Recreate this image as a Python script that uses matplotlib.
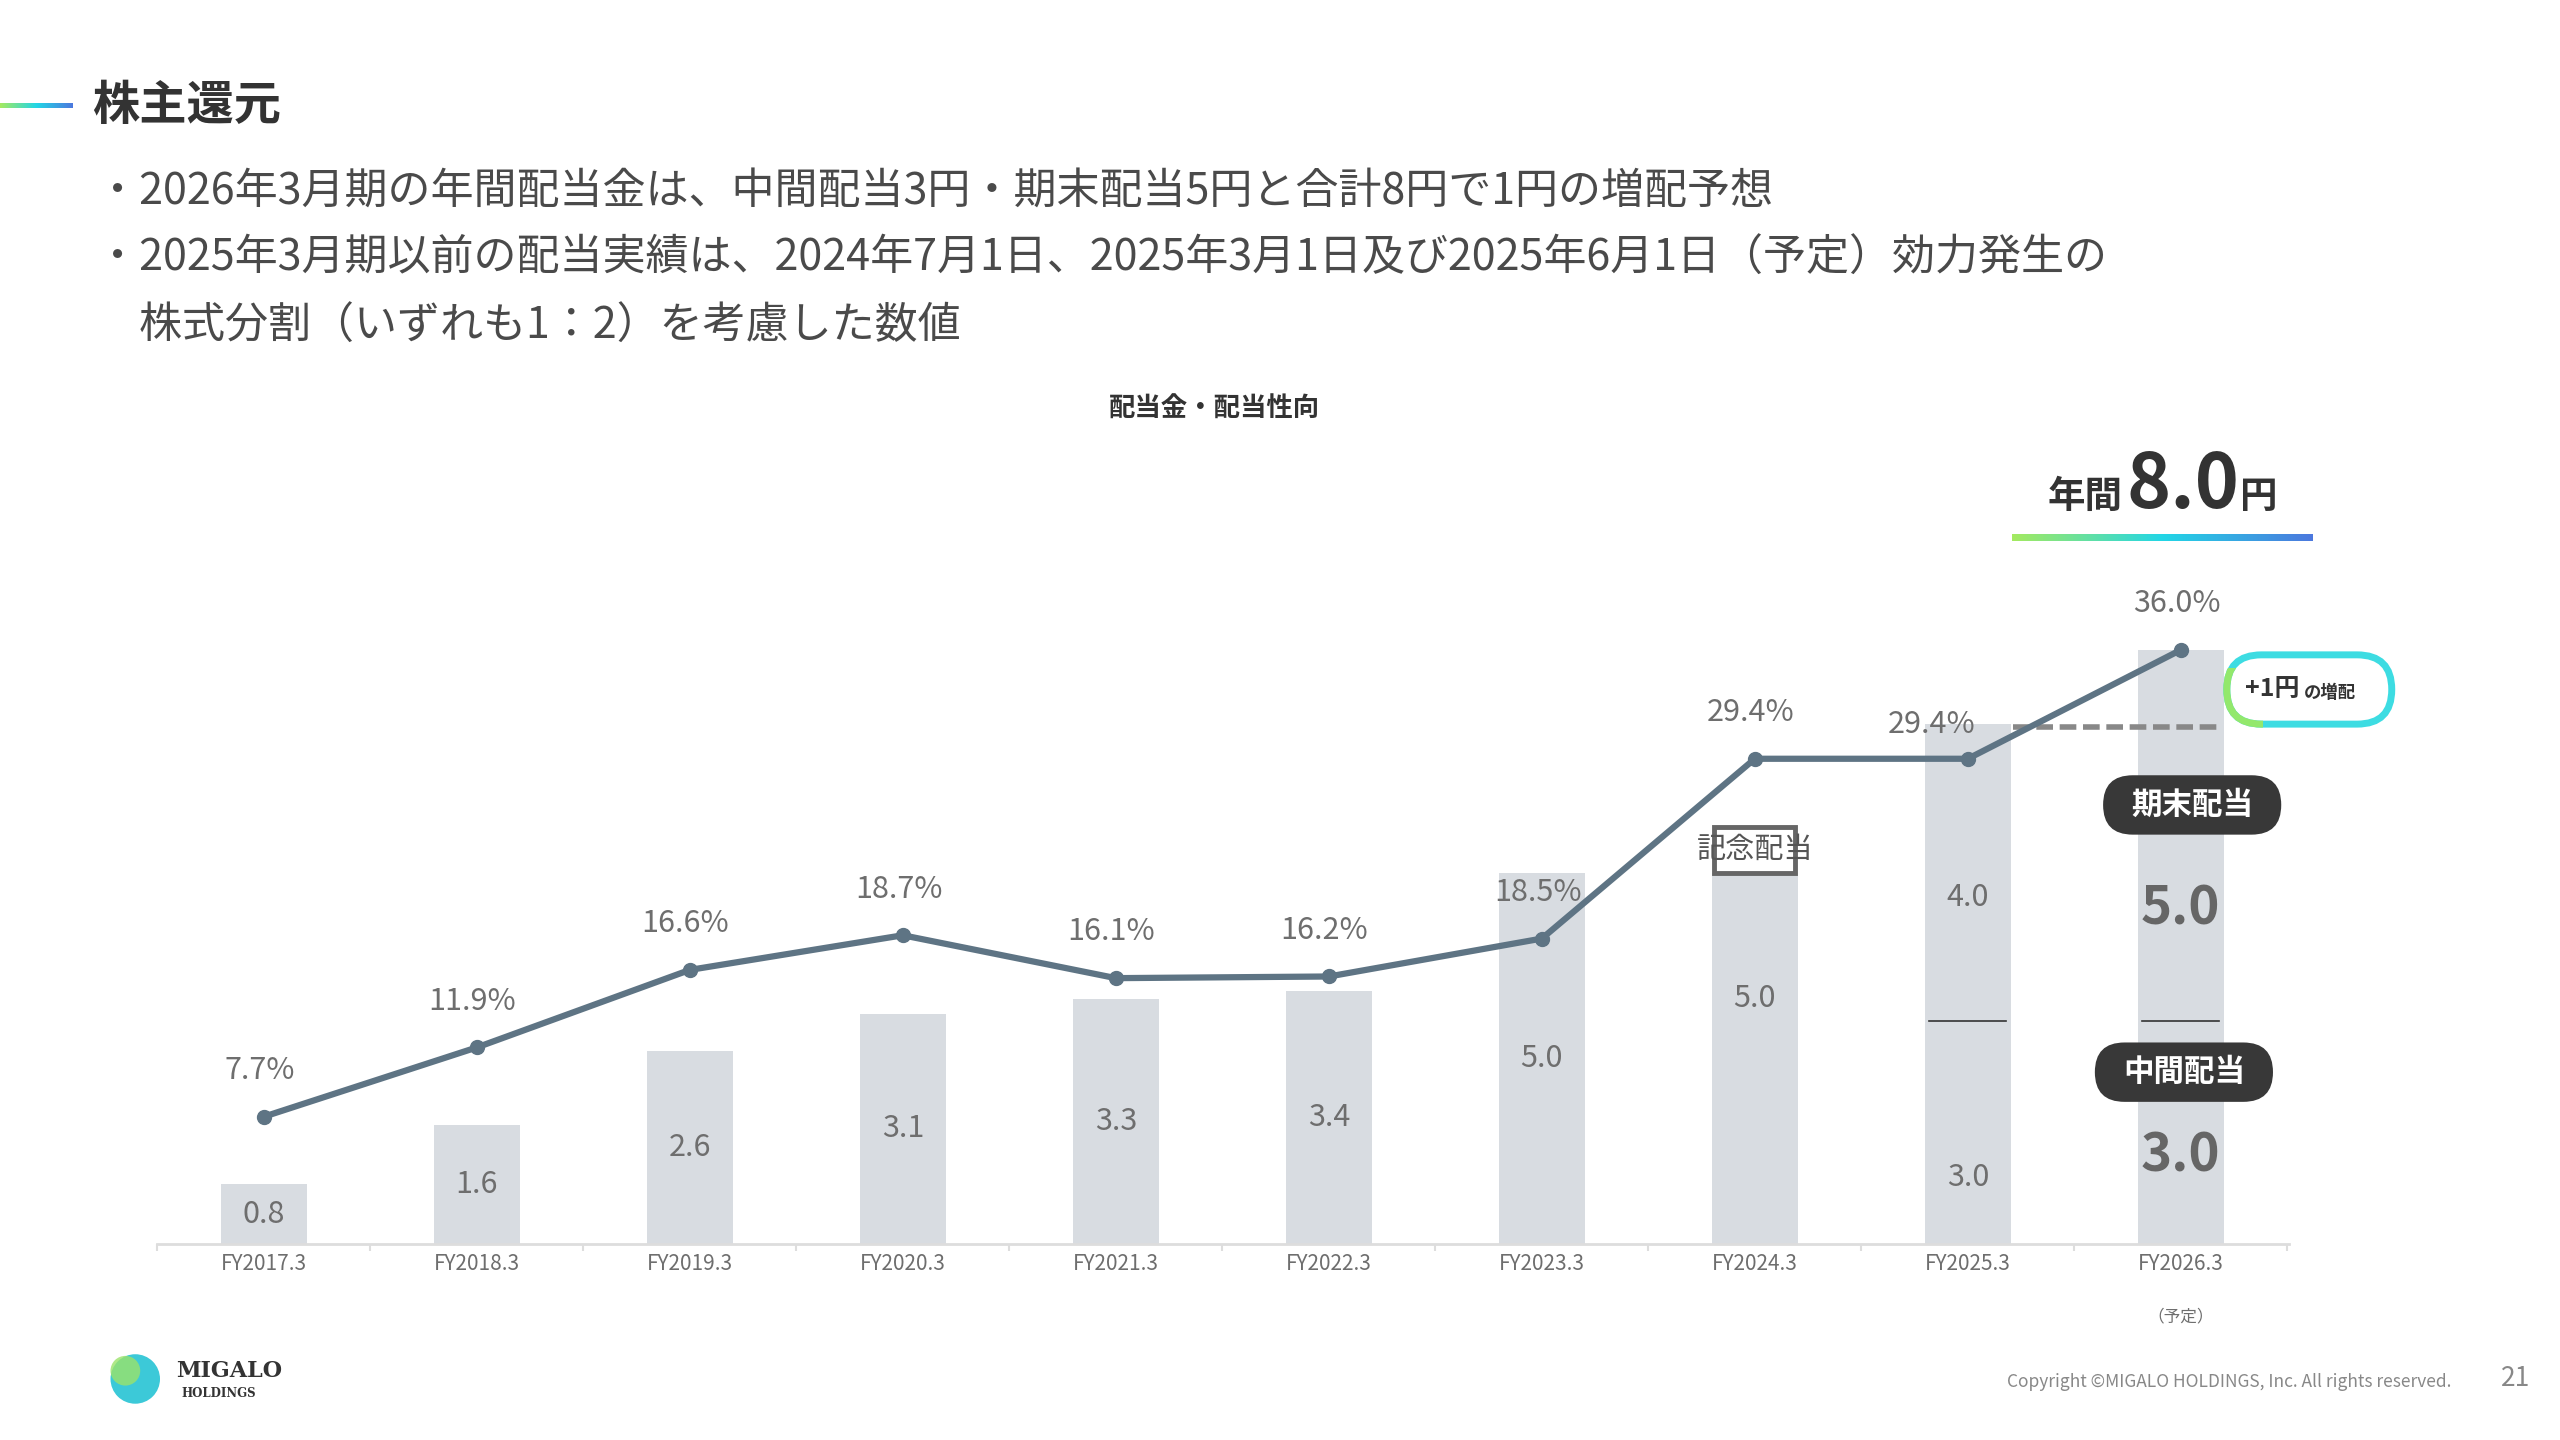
import numpy as np
import matplotlib
matplotlib.use("Agg")
import matplotlib.pyplot as plt
from matplotlib.patches import FancyBboxPatch, Rectangle, Circle
from matplotlib.colors import LinearSegmentedColormap

FONT = "Noto Sans CJK JP"
plt.rcParams["font.family"] = FONT

categories = ["FY2017.3", "FY2018.3", "FY2019.3", "FY2020.3", "FY2021.3",
              "FY2022.3", "FY2023.3", "FY2024.3", "FY2025.3", "FY2026.3"]
interim = [0, 0, 0, 0, 0, 0, 0, 0, 3.0, 3.0]          # 中間配当
year_end = [0.8, 1.6, 2.6, 3.1, 3.3, 3.4, 5.0, 5.0, 4.0, 5.0]  # 期末配当 / annual
payout = [7.7, 11.9, 16.6, 18.7, 16.1, 16.2, 18.5, 29.4, 29.4, 36.0]
annual_2026 = 8.0

W, H = 1552, 873
fig = plt.figure(figsize=(25.6, 14.4), dpi=100)
BAR = "#D8DCE1"
LINE = "#5E7484"
TXT = "#6E6E6E"
grad = LinearSegmentedColormap.from_list("g", ["#A4EA60", "#22D6E6", "#4C78DE"])

ax = fig.add_axes([95 / W, 1 - 754 / H, (1388 - 95) / W, 400 / H])
x = np.arange(len(categories))
bw = 52 / 129.1
ax.bar(x, interim, width=bw, color=BAR, zorder=1)
ax.bar(x, year_end, width=bw, bottom=interim, color=BAR, zorder=1)
ax.set_xlim(-0.503, 9.51)
ax.set_ylim(0, 400 / 45)
for s in ["top", "right", "left"]:
    ax.spines[s].set_visible(False)
ax.spines["bottom"].set_color("#DDDDDD")
ax.spines["bottom"].set_linewidth(2)
ax.set_yticks([])
ax.set_xticks(np.arange(-0.5, 10, 1))
ax.set_xticklabels([])
ax.tick_params(axis="x", length=5, color="#DDDDDD", width=1.5)
for i, c in enumerate(categories):
    ax.text(i, -0.27, c, ha="center", va="center", fontsize=15, color=TXT)
ax.text(9, -0.99, "（予定）", ha="center", va="center", fontsize=12, color=TXT)

for i in range(len(categories)):
    if interim[i] > 0:
        ax.plot([i - bw / 2 + 0.02, i + bw / 2 - 0.02], [interim[i]] * 2, color="#333333", lw=1.2, zorder=2)
        if i == 9:
            ax.text(i, 4.51, f"{year_end[i]:.1f}", ha="center", va="center",
                    fontsize=38, fontweight="bold", color="#666666", zorder=3)
            ax.text(i, 1.18, f"{interim[i]:.1f}", ha="center", va="center",
                    fontsize=38, fontweight="bold", color="#666666", zorder=3)
        else:
            ax.text(i, 4.67, f"{year_end[i]:.1f}", ha="center", va="center", fontsize=22, color=TXT)
            ax.text(i, 0.89, f"{interim[i]:.1f}", ha="center", va="center", fontsize=22, color=TXT)
    else:
        tot = year_end[i]
        yy = {6: 2.49, 7: 3.31}.get(i, tot / 2)
        ax.text(i, yy, f"{tot:.1f}", ha="center", va="center", fontsize=22, color=TXT)

# 記念配当 box on FY2024.3
ax.add_patch(Rectangle((7 - 0.19, 5.0), 0.38, 0.62, fill=False, edgecolor="#666666", lw=3.5, zorder=4))
ax.text(7, 5.31, "記念配当", ha="center", va="center", fontsize=21, color="#555555", zorder=5)

# payout ratio line
ax2 = ax.twinx()
ax2.set_ylim(0, 40)
ax2.set_yticks([])
for s in ["top", "right", "left", "bottom"]:
    ax2.spines[s].set_visible(False)
ax2.plot(x, payout, color=LINE, lw=4.5, marker="o", ms=10, zorder=5)
for i, p in enumerate(payout):
    dx = -0.02 if i != 8 else -0.17
    dy = 2.8 if i != 8 else 2.1
    ax2.text(i + dx, p + dy, f"{p:.1f}%", ha="center", va="center", fontsize=22, color=TXT)
ax2.plot([8.21, 9.2], [31.3, 31.3], color="#888888", lw=4, ls=(0, (3, 1.2)), zorder=4)

# overlay axes in pixel coords
ov = fig.add_axes([0, 0, 1, 1], facecolor="none")
ov.set_xlim(0, W)
ov.set_ylim(H, 0)
ov.axis("off")

def gline(x0, x1, y, h):
    ov.imshow(np.linspace(0, 1, 256)[None, :], cmap=grad, aspect="auto",
              extent=(x0, x1, y + h / 2, y - h / 2), zorder=3)

gline(0, 44, 64, 3)
ov.text(56, 64, "株主還元", fontsize=34, fontweight="bold", color="#333333", va="center")
lines = ["・2026年3月期の年間配当金は、中間配当3円・期末配当5円と合計8円で1円の増配予想",
         "・2025年3月期以前の配当実績は、2024年7月1日、2025年3月1日及び2025年6月1日（予定）効力発生の",
         "　株式分割（いずれも1：2）を考慮した数値"]
for k, t in enumerate(lines):
    ov.text(58, 116 + 41 * k, t, fontsize=31, color="#4A4A4A", va="center")
ov.text(736, 248, "配当金・配当性向", fontsize=19, fontweight="bold", color="#333333", ha="center", va="center")

# 年間8.0円
ov.text(1287, 308, "年間", fontsize=27, fontweight="bold", color="#333333", ha="right", va="baseline")
ov.text(1289, 308, f"{annual_2026:.1f}", fontsize=54, fontweight="bold", color="#333333", ha="left", va="baseline")
ov.text(1358, 308, "円", fontsize=27, fontweight="bold", color="#333333", ha="left", va="baseline")
gline(1220, 1402, 326, 4)

# pills
for (cx, cy, t) in [(1329, 488, "期末配当"), (1324, 650, "中間配当")]:
    ov.add_patch(FancyBboxPatch((cx - 54, cy - 18), 108, 36, boxstyle="round,pad=0,rounding_size=18",
                                facecolor="#383838", edgecolor="none", zorder=6))
    ov.text(cx, cy, t, fontsize=22, fontweight="bold", color="white", ha="center", va="center", zorder=7)

# +1円の増配 bubble
b1 = FancyBboxPatch((1350, 397), 100, 42, boxstyle="round,pad=0,rounding_size=21",
                    facecolor="white", edgecolor="#3DDCE2", lw=5, zorder=6)
ov.add_patch(b1)
b2 = FancyBboxPatch((1350, 397), 100, 42, boxstyle="round,pad=0,rounding_size=21",
                    facecolor="none", edgecolor="#93E86C", lw=5, zorder=6)
ov.add_patch(b2)
clip = Rectangle((1340, 405), 32, 45, transform=ov.transData)
b2.set_clip_path(clip)
ov.text(1361, 418, "+1円", fontsize=18, fontweight="bold", color="#333333", ha="left", va="center", zorder=7)
ov.text(1397, 420, "の増配", fontsize=12.5, fontweight="bold", color="#333333", ha="left", va="center", zorder=7)

# logo & footer
ov.add_patch(Circle((82, 836), 15, facecolor="#3CC9D8", edgecolor="none", zorder=3))
ov.add_patch(Circle((76, 831), 9, facecolor="#9BE36A", edgecolor="none", alpha=0.8, zorder=4))
ov.text(107, 831, "MIGALO", fontsize=16, fontweight="bold", family="DejaVu Serif", color="#333333", va="center")
ov.text(110, 845, "HOLDINGS", fontsize=8.5, fontweight="bold", family="DejaVu Serif", color="#333333", va="center")
ov.text(1486, 838, "Copyright ©MIGALO HOLDINGS, Inc. All rights reserved.", fontsize=12.5,
        color="#888888", ha="right", va="center")
ov.text(1534, 836, "21", fontsize=19, color="#888888", ha="right", va="center")

fig.savefig("out.png", dpi=100, facecolor="white")
